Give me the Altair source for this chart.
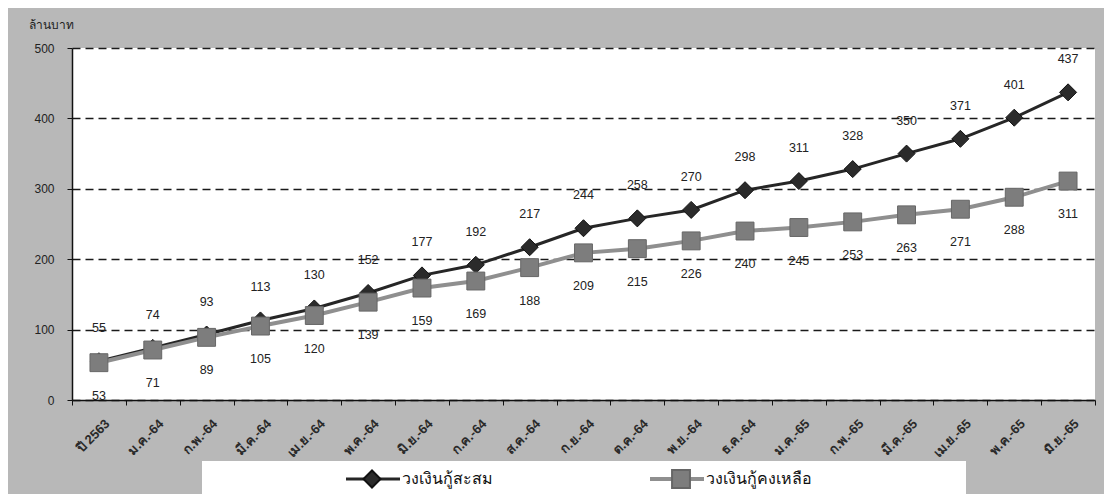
import altair as alt
import pandas as pd

months = ["ปี 2563", "ม.ค.-64", "ก.พ.-64", "มี.ค.-64", "เม.ย.-64", "พ.ค.-64", "มิ.ย.-64",
          "ก.ค.-64", "ส.ค.-64", "ก.ย.-64", "ต.ค.-64", "พ.ย.-64", "ธ.ค.-64", "ม.ค.-65",
          "ก.พ.-65", "มี.ค.-65", "เม.ย.-65", "พ.ค.-65", "มิ.ย.-65"]
cumulative = [55, 74, 93, 113, 130, 152, 177, 192, 217, 244, 258, 270, 298, 311, 328, 350, 371, 401, 437]
remaining = [53, 71, 89, 105, 120, 139, 159, 169, 188, 209, 215, 226, 240, 245, 253, 263, 271, 288, 311]
series_names = ["วงเงินกู้สะสม", "วงเงินกู้คงเหลือ"]
y_title = "ล้านบาท"

df_cum = pd.DataFrame({"month": months, "value": cumulative})
df_rem = pd.DataFrame({"month": months, "value": remaining})

FONT = "Liberation Sans"
xenc = alt.X("month:N", sort=months, bandPosition=0.5,
             scale=alt.Scale(type="band", paddingInner=0, paddingOuter=0),
             axis=alt.Axis(title=None, labelAngle=-45, labelAlign="right", labelBaseline="top",
                           tickBand="extent", tickSize=5, tickColor="#111", domainColor="#111",
                           domainWidth=1.5, labelFontSize=13, labelFontWeight="bold",
                           labelColor="#2a2a2a", labelFont=FONT,
                           labelPadding=12, labelOffset=4, grid=False))
yenc = alt.Y("value:Q", scale=alt.Scale(domain=[0, 500], nice=False),
             axis=alt.Axis(title=y_title, titleAngle=0, titleAlign="left", titleBaseline="middle",
                           titleX=-44, titleY=-24, titleFontSize=12, titleFontWeight="normal",
                           titleColor="#222", titleFont=FONT,
                           values=[0, 100, 200, 300, 400, 500], tickSize=5, tickColor="#111",
                           domainColor="#111", domainWidth=1.5, labelFontSize=12, labelColor="#222",
                           labelFont=FONT, labelPadding=13, grid=True, gridColor="#1a1a1a",
                           gridDash=[8, 5], gridWidth=1.6))

base_cum = alt.Chart(df_cum)
base_rem = alt.Chart(df_rem)

cum_line = base_cum.mark_line(color="#262626", strokeWidth=3).encode(x=xenc, y=yenc)
cum_pts = base_cum.mark_point(shape="diamond", filled=True, size=290, color="#2b2b2b",
                              stroke="#111", strokeWidth=1, opacity=1).encode(x=xenc, y=yenc)
cum_txt = base_cum.mark_text(dy=-33, fontSize=12.5, font=FONT, color="#222").encode(
    x=xenc, y=yenc, text="value:Q")

rem_line = base_rem.mark_line(color="#8f8f8f", strokeWidth=4).encode(x=xenc, y=yenc)
rem_pts = base_rem.mark_point(shape="square", filled=True, size=320, color="#7d7d7d",
                              stroke="#666", strokeWidth=1, opacity=1).encode(x=xenc, y=yenc)
rem_txt = base_rem.mark_text(dy=33, fontSize=12.5, font=FONT, color="#222").encode(
    x=xenc, y=yenc, text="value:Q")

# manual legend
leg_df1 = pd.DataFrame({"name": [series_names[0]]})
leg_df2 = pd.DataFrame({"name": [series_names[1]]})
leg_box = alt.Chart(leg_df1).mark_rect(fill="white").encode(
    x=alt.value(130), x2=alt.value(894), y=alt.value(413), y2=alt.value(449))
leg_l1 = alt.Chart(leg_df1).mark_rule(color="#262626", strokeWidth=3).encode(
    x=alt.value(274), x2=alt.value(328), y=alt.value(431))
leg_p1 = alt.Chart(leg_df1).mark_point(shape="diamond", filled=True, size=290, color="#2b2b2b",
                                       stroke="#111", opacity=1).encode(
    x=alt.value(300), y=alt.value(431))
leg_t1 = alt.Chart(leg_df1).mark_text(align="left", baseline="middle", fontSize=16,
                                      color="#111").encode(
    x=alt.value(330), y=alt.value(431), text="name:N")
leg_l2 = alt.Chart(leg_df2).mark_rule(color="#8f8f8f", strokeWidth=4).encode(
    x=alt.value(578), x2=alt.value(632), y=alt.value(431))
leg_p2 = alt.Chart(leg_df2).mark_point(shape="square", filled=True, size=320, color="#7d7d7d",
                                       stroke="#666", opacity=1).encode(
    x=alt.value(609), y=alt.value(431))
leg_t2 = alt.Chart(leg_df2).mark_text(align="left", baseline="middle", fontSize=16,
                                      color="#111").encode(
    x=alt.value(634), y=alt.value(431), text="name:N")

chart = alt.layer(
    cum_line, cum_pts, cum_txt, rem_line, rem_pts, rem_txt,
    leg_box, leg_l1, leg_p1, leg_t1, leg_l2, leg_p2, leg_t2
).properties(
    width=1023, height=352,
    autosize=alt.AutoSizeParams(type="none"),
    padding={"left": 64, "top": 40, "right": 9, "bottom": 94},
    background="#b8b8b8",
).configure_view(fill="white", stroke=None)

chart.save("out.html", embed_options={"renderer": "svg", "actions": False})
